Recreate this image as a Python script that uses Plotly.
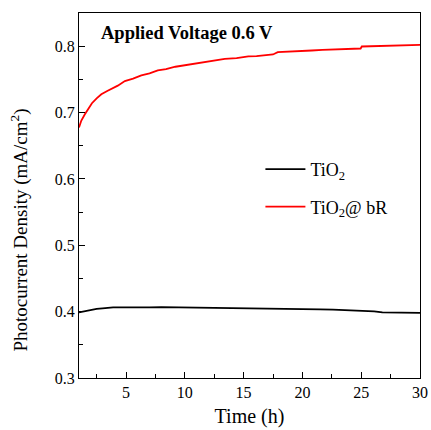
import plotly.graph_objects as go

# Photocurrent density vs. time at 0.6 V bias
time_tio2 = [1.0, 1.5, 2.0, 2.5, 3.0, 3.9, 5.0, 6.0, 7.0, 8.0, 9.0, 10.1, 11.0, 12.0,
             13.0, 14.1, 15.0, 16.0, 17.0, 18.4, 19.5, 20.5, 21.5, 22.6, 23.5, 24.5,
             25.4, 26.1, 26.8, 27.5, 28.5, 29.8, 30.0]
j_tio2 = [0.399, 0.401, 0.402, 0.404, 0.405, 0.4065, 0.4065, 0.4062, 0.4065, 0.4068,
          0.4066, 0.407, 0.4068, 0.4066, 0.406, 0.4055, 0.4055, 0.4052, 0.405, 0.4045,
          0.4042, 0.404, 0.4035, 0.403, 0.4025, 0.402, 0.4015, 0.4005, 0.399, 0.3988,
          0.3985, 0.398, 0.398]

time_bR = [1.0, 1.2, 1.5, 1.8, 2.1, 2.5, 2.9, 3.4, 3.8, 4.3, 4.9, 5.6, 6.3, 7.0, 7.7,
           8.4, 9.2, 9.9, 10.6, 11.3, 12.0, 12.7, 13.4, 14.4, 15.4, 16.1, 16.8, 17.5,
           17.9, 18.8, 19.8, 20.8, 21.7, 22.7, 23.6, 24.5, 24.95, 25.05, 25.8, 26.5,
           27.3, 28.2, 29.0, 29.8, 30.0]
j_bR = [0.6775, 0.688, 0.6975, 0.706, 0.714, 0.7215, 0.7275, 0.7325, 0.736, 0.7405,
        0.7475, 0.751, 0.756, 0.759, 0.7635, 0.7655, 0.769, 0.771, 0.774, 0.7755,
        0.7775, 0.779, 0.781, 0.782, 0.7845, 0.785, 0.7865, 0.7875, 0.791, 0.7915,
        0.7925, 0.7935, 0.7945, 0.795, 0.796, 0.7962, 0.7965, 0.7995, 0.7998, 0.8,
        0.8005, 0.8008, 0.8012, 0.802, 0.802]

x_ticks = [5, 10, 15, 20, 25, 30]
y_ticks = [0.3, 0.4, 0.5, 0.6, 0.7, 0.8]

serif = "Liberation Serif"

fig = go.Figure()
fig.add_trace(go.Scatter(
    x=time_tio2, y=j_tio2, mode="lines", name="TiO<sub>2</sub>",
    line=dict(color="black", width=1.8), legendgroup="a",
))
fig.add_trace(go.Scatter(
    x=time_bR, y=j_bR, mode="lines", name="TiO<sub>2</sub>@ bR",
    line=dict(color="#ff0000", width=1.8), legendgroup="b",
))

axis_common = dict(
    showline=True, linecolor="black", linewidth=1.3, mirror=True,
    ticks="inside", ticklen=6, tickwidth=1.3, tickcolor="black",
    showgrid=False, zeroline=False, automargin=False,
    tickfont=dict(family=serif, size=16, color="black"),
)

fig.update_xaxes(
    range=[1, 30], tickvals=x_ticks, ticktext=[str(v) for v in x_ticks],
    minor=dict(ticks="inside", ticklen=3.5, tickwidth=1.2, tickcolor="black", dtick=2.5, tick0=0),
    title=dict(text="Time (h)", font=dict(family=serif, size=20, color="black"), standoff=8),
    **axis_common,
)
fig.update_yaxes(
    range=[0.3, 0.85], tickvals=y_ticks, ticktext=[f"{v:.1f}" for v in y_ticks],
    minor=dict(ticks="inside", ticklen=4, tickwidth=1.2, tickcolor="black", dtick=0.05, tick0=0.3),
    **axis_common,
)

# y-axis title, set a little below the middle of the axis
fig.add_annotation(
    text="Photocurrent Density (mA/cm<sup>2</sup>)", xref="paper", yref="paper",
    x=-0.173, y=0.404, xanchor="center", yanchor="middle", textangle=-90,
    showarrow=False, font=dict(family=serif, size=19, color="black"),
)

fig.add_annotation(
    text="<b>Applied Voltage 0.6 V</b>", xref="paper", yref="paper",
    x=0.06, y=0.944, xanchor="left", yanchor="middle", showarrow=False,
    font=dict(family=serif, size=18.5, color="black"),
)

fig.update_layout(
    width=431, height=430,
    margin=dict(l=79, r=11, t=13, b=52),
    paper_bgcolor="white", plot_bgcolor="white",
    font=dict(family=serif, color="black"),
    showlegend=True,
    legend=dict(
        x=0.532, y=0.622, xanchor="left", yanchor="top",
        bgcolor="rgba(0,0,0,0)", borderwidth=0,
        font=dict(family=serif, size=18, color="black"),
        tracegroupgap=11, itemwidth=40,
    ),
)

fig.write_html("out.html")
